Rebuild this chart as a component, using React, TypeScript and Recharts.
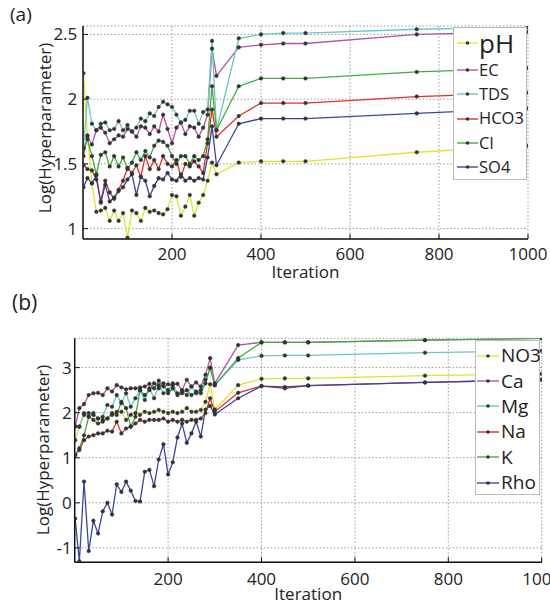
import React from 'react';
import { LineChart, Line, XAxis, YAxis, CartesianGrid, Legend } from 'recharts';

const iterations = [1, 10, 20, 30, 40, 50, 60, 70, 80, 90, 100, 110, 120, 130, 140, 150, 160, 170, 180, 190, 200, 210, 220, 230, 240, 250, 260, 270, 280, 290, 300, 350, 400, 450, 500, 750, 1000];

// Panel (a)
const pH = [2.2, 1.72, 1.35, 1.13, 1.14, 1.16, 1.06, 1.14, 1.06, 1.12, 0.93, 1.14, 1.12, 1.06, 1.16, 1.13, 1.14, 1.12, 1.11, 1.15, 1.26, 1.25, 1.10, 1.17, 1.26, 1.10, 1.20, 1.26, 1.37, 1.51, 1.42, 1.51, 1.52, 1.52, 1.52, 1.59, 1.64];
const EC = [1.56, 1.71, 1.65, 1.76, 1.78, 1.74, 1.66, 1.69, 1.72, 1.71, 1.77, 1.75, 1.71, 1.79, 1.78, 1.73, 1.79, 1.75, 1.88, 1.77, 1.66, 1.78, 1.82, 1.73, 1.79, 1.78, 1.71, 1.78, 1.88, 2.39, 2.18, 2.40, 2.42, 2.43, 2.43, 2.50, 2.52];
const TDS = [1.62, 2.01, 1.81, 1.76, 1.81, 1.82, 1.76, 1.77, 1.83, 1.76, 1.80, 1.75, 1.78, 1.85, 1.83, 1.89, 1.87, 1.94, 1.98, 1.96, 1.94, 1.88, 1.82, 1.84, 1.91, 1.91, 1.81, 1.90, 1.92, 2.45, 1.76, 2.47, 2.50, 2.51, 2.51, 2.54, 2.555];
const HCO3 = [1.49, 1.46, 1.45, 1.38, 1.21, 1.37, 1.28, 1.23, 1.30, 1.37, 1.47, 1.43, 1.49, 1.40, 1.56, 1.46, 1.53, 1.46, 1.56, 1.50, 1.48, 1.53, 1.40, 1.50, 1.48, 1.52, 1.48, 1.43, 1.66, 1.92, 1.71, 1.87, 1.97, 1.97, 1.97, 2.02, 2.05];
const Cl = [1.62, 1.69, 1.56, 1.42, 1.57, 1.59, 1.48, 1.56, 1.48, 1.55, 1.46, 1.51, 1.59, 1.53, 1.60, 1.55, 1.64, 1.68, 1.67, 1.64, 1.56, 1.50, 1.56, 1.56, 1.50, 1.56, 1.53, 1.56, 1.69, 2.10, 1.76, 2.10, 2.16, 2.16, 2.16, 2.21, 2.24];
const SO4 = [1.32, 1.39, 1.35, 1.41, 1.20, 1.34, 1.21, 1.24, 1.29, 1.32, 1.38, 1.42, 1.26, 1.40, 1.37, 1.25, 1.33, 1.39, 1.38, 1.43, 1.38, 1.37, 1.42, 1.37, 1.39, 1.37, 1.39, 1.38, 1.55, 1.79, 1.49, 1.81, 1.85, 1.85, 1.85, 1.89, 1.93];

// Panel (b)
const NO3 = [1.39, 1.69, 1.95, 1.99, 1.95, 1.87, 1.84, 1.87, 1.95, 2.02, 2.02, 1.84, 1.95, 1.99, 1.95, 2.02, 1.99, 2.02, 2.06, 2.02, 1.99, 2.02, 1.99, 2.02, 2.10, 2.02, 2.02, 2.06, 2.24, 2.63, 2.07, 2.61, 2.75, 2.76, 2.76, 2.82, 2.86];
const Ca = [1.69, 2.10, 2.19, 2.39, 2.43, 2.44, 2.39, 2.54, 2.47, 2.61, 2.56, 2.52, 2.54, 2.54, 2.56, 2.58, 2.64, 2.54, 2.71, 2.58, 2.63, 2.61, 2.64, 2.50, 2.73, 2.58, 2.67, 2.58, 2.84, 3.21, 2.65, 3.50, 3.56, 3.56, 3.56, 3.61, 3.65];
const Mg = [1.70, 1.69, 1.99, 1.91, 1.99, 1.87, 1.91, 2.17, 2.13, 2.39, 2.21, 2.43, 2.13, 2.32, 2.50, 2.28, 2.54, 2.32, 2.61, 2.43, 2.50, 2.65, 2.43, 2.47, 2.39, 2.58, 2.43, 2.50, 2.73, 2.99, 2.61, 3.17, 3.26, 3.27, 3.27, 3.33, 3.37];
const Na = [1.06, 1.17, 1.39, 1.47, 1.50, 1.54, 1.54, 1.60, 1.58, 1.80, 1.54, 1.65, 1.69, 1.76, 1.84, 1.80, 1.84, 1.84, 1.84, 1.87, 1.80, 1.84, 1.80, 1.84, 1.80, 1.84, 1.84, 1.87, 1.99, 2.32, 2.02, 2.44, 2.59, 2.54, 2.60, 2.67, 2.73];
const K = [1.06, 1.21, 1.50, 1.91, 1.84, 1.76, 1.80, 1.87, 1.99, 1.95, 2.24, 2.10, 1.69, 1.91, 2.50, 2.39, 2.50, 2.65, 2.54, 2.65, 2.43, 2.54, 2.39, 2.43, 2.50, 2.39, 2.47, 2.43, 2.65, 3.00, 2.61, 3.21, 3.56, 3.56, 3.56, 3.61, 3.65];
const Rho = [-0.35, -1.30, 0.47, -1.07, -0.40, -0.68, -0.19, 0.00, -0.26, 0.41, 0.24, 0.47, 0.27, 0.04, 0.03, 0.69, 0.73, 0.37, 0.96, 1.30, 0.63, 0.90, 1.45, 1.76, 1.33, 1.54, 1.80, 1.47, 2.07, 2.15, 1.96, 2.32, 2.59, 2.57, 2.60, 2.67, 2.73];

const xTicks = [200, 400, 600, 800, 1000];
const yTicksA = [1, 1.5, 2, 2.5];
const yTicksB = [-1, 0, 1, 2, 3];

const COLORS = ['#e4e22e', '#b454a8', '#6cc6c6', '#e0302a', '#3fae3f', '#3848a0'];

const seriesA = [
  { name: 'pH', values: pH },
  { name: 'EC', values: EC },
  { name: 'TDS', values: TDS },
  { name: 'HCO3', values: HCO3 },
  { name: 'Cl', values: Cl },
  { name: 'SO4', values: SO4 },
];
const seriesB = [
  { name: 'NO3', values: NO3 },
  { name: 'Ca', values: Ca },
  { name: 'Mg', values: Mg },
  { name: 'Na', values: Na },
  { name: 'K', values: K },
  { name: 'Rho', values: Rho },
];

const buildRows = (series: { name: string; values: number[] }[]) =>
  iterations.map((it, i) => {
    const row: Record<string, number> = { it };
    series.forEach((s) => {
      row[s.name] = s.values[i];
    });
    return row;
  });

const dataA = buildRows(seriesA);
const dataB = buildRows(seriesB);

const FONT = '"Open Sans", "Noto Sans", "DejaVu Sans", sans-serif';
const INK = '#222';

const Sample = ({ color, w }: { color: string; w: number }) => (
  <svg width={w} height={10} style={{ flex: 'none' }}>
    <line x1={0} y1={5} x2={w} y2={5} stroke={color} strokeWidth={1.4} />
    <circle cx={w / 2} cy={5} r={1.8} fill="#333" />
  </svg>
);

const legendA = () => (
  <div
    style={{
      width: 74,
      boxSizing: 'border-box',
      border: '1px solid #bbb',
      background: '#fff',
      paddingLeft: 3,
      fontFamily: FONT,
      color: INK,
      whiteSpace: 'nowrap',
    }}
  >
    {seriesA.map((s, i) => (
      <div key={s.name} style={{ display: 'flex', alignItems: 'center', height: i === 0 ? 30 : 24.3 }}>
        <Sample color={COLORS[i]} w={21} />
        <span style={{ marginLeft: 1, fontSize: i === 0 ? 26 : 16.5, lineHeight: 1 }}>{s.name}</span>
      </div>
    ))}
  </div>
);

const legendB = () => (
  <div
    style={{
      width: 65,
      height: 155,
      boxSizing: 'border-box',
      border: '1px solid #bbb',
      background: '#fff',
      paddingLeft: 1,
      paddingTop: 2,
      fontFamily: FONT,
      color: INK,
      whiteSpace: 'nowrap',
    }}
  >
    {seriesB.map((s, i) => (
      <div key={s.name} style={{ display: 'flex', alignItems: 'center', height: 25.4 }}>
        <Sample color={COLORS[i]} w={22} />
        <span style={{ marginLeft: 2, fontSize: 19, lineHeight: 1 }}>{s.name}</span>
      </div>
    ))}
  </div>
);

const axisLine = { stroke: '#111', strokeWidth: 1.5 };
const tickLine = { stroke: '#111', strokeWidth: 1 };
const tickStyle = { fontSize: 17, fill: INK };

const yLabel = (x: number, y: number) => () => (
  <text
    x={x}
    y={y}
    transform={`rotate(-90, ${x}, ${y})`}
    textAnchor="middle"
    fontSize={17}
    fill={INK}
    fontFamily={FONT}
  >
    Log(Hyperparameter)
  </text>
);

type PanelProps = {
  data: Record<string, number>[];
  series: { name: string; values: number[] }[];
  height: number;
  margin: { top: number; right: number; bottom: number; left: number };
  yWidth: number;
  xHeight: number;
  yDomain: [number, number];
  yTicks: number[];
  xTickMargin: number;
  yTickMargin: number;
  iterOffset: number;
  yLabelX: number;
  yLabelY: number;
  legend: () => React.ReactElement;
  legendPos: { left: number; top: number };
};

const Panel = (p: PanelProps) => (
  <LineChart width={550} height={p.height} data={p.data} margin={p.margin}>
    <CartesianGrid xAxisId="b" yAxisId="l" stroke="#9a9a9a" strokeDasharray="1.5 2" />
    <XAxis
      xAxisId="b"
      dataKey="it"
      type="number"
      domain={[0, 1000]}
      ticks={xTicks}
      interval={0}
      allowDataOverflow
      height={p.xHeight}
      tickSize={-5}
      tickMargin={p.xTickMargin}
      tick={tickStyle}
      axisLine={axisLine}
      tickLine={tickLine}
      label={{ value: 'Iteration', position: 'insideBottom', offset: p.iterOffset, fontSize: 17, fill: INK }}
    />
    <XAxis
      xAxisId="t"
      orientation="top"
      dataKey="it"
      type="number"
      domain={[0, 1000]}
      ticks={xTicks}
      interval={0}
      allowDataOverflow
      height={0}
      tickSize={-5}
      tickFormatter={() => ''}
      axisLine={axisLine}
      tickLine={tickLine}
    />
    <YAxis
      yAxisId="l"
      type="number"
      domain={p.yDomain}
      ticks={p.yTicks}
      interval={0}
      allowDataOverflow
      width={p.yWidth}
      tickSize={-5}
      tickMargin={p.yTickMargin}
      tick={tickStyle}
      axisLine={axisLine}
      tickLine={tickLine}
      label={{ content: yLabel(p.yLabelX, p.yLabelY) }}
    />
    <YAxis
      yAxisId="r"
      orientation="right"
      type="number"
      domain={p.yDomain}
      ticks={p.yTicks}
      interval={0}
      allowDataOverflow
      width={0}
      tickSize={-5}
      tickFormatter={() => ''}
      axisLine={axisLine}
      tickLine={tickLine}
    />
    {p.series.map((s, i) => (
      <Line
        key={s.name}
        xAxisId="b"
        yAxisId="l"
        type="linear"
        dataKey={s.name}
        stroke={COLORS[i]}
        strokeWidth={1.3}
        dot={{ r: 1.8, fill: '#333', stroke: '#333', strokeWidth: 0.5 }}
        isAnimationActive={false}
      />
    ))}
    <Legend
      layout="vertical"
      align="center"
      verticalAlign="middle"
      content={p.legend}
      wrapperStyle={{ left: p.legendPos.left, top: p.legendPos.top, width: 'auto', height: 'auto' }}
    />
  </LineChart>
);

export default function App() {
  return (
    <div
      style={{
        position: 'absolute',
        left: 0,
        top: 0,
        width: 550,
        height: 604,
        background: '#fff',
        fontFamily: FONT,
        overflow: 'hidden',
      }}
    >
      <div style={{ position: 'absolute', left: 10, top: 0, fontSize: 19, color: INK, lineHeight: '28px' }}>(a)</div>
      <div style={{ position: 'absolute', left: 12, top: 288, fontSize: 21, color: INK, lineHeight: '28px' }}>(b)</div>
      <div style={{ position: 'absolute', left: 0, top: 0 }}>
        <Panel
          data={dataA}
          series={seriesA}
          height={290}
          margin={{ top: 26, right: 22, bottom: 0, left: 0 }}
          yWidth={83}
          xHeight={51}
          yDomain={[0.92, 2.565]}
          yTicks={yTicksA}
          xTickMargin={14}
          yTickMargin={10.7}
          iterOffset={12}
          yLabelX={50.5}
          yLabelY={128}
          legend={legendA}
          legendPos={{ left: 453, top: 27 }}
        />
      </div>
      <div style={{ position: 'absolute', left: 0, top: 290 }}>
        <Panel
          data={dataB}
          series={seriesB}
          height={314}
          margin={{ top: 48.3, right: 8.3, bottom: 0, left: 0 }}
          yWidth={74.7}
          xHeight={41.7}
          yDomain={[-1.32, 3.65]}
          yTicks={yTicksB}
          xTickMargin={16}
          yTickMargin={8}
          iterOffset={4}
          yLabelX={49}
          yLabelY={160}
          legend={legendB}
          legendPos={{ left: 475, top: 50 }}
        />
      </div>
    </div>
  );
}
